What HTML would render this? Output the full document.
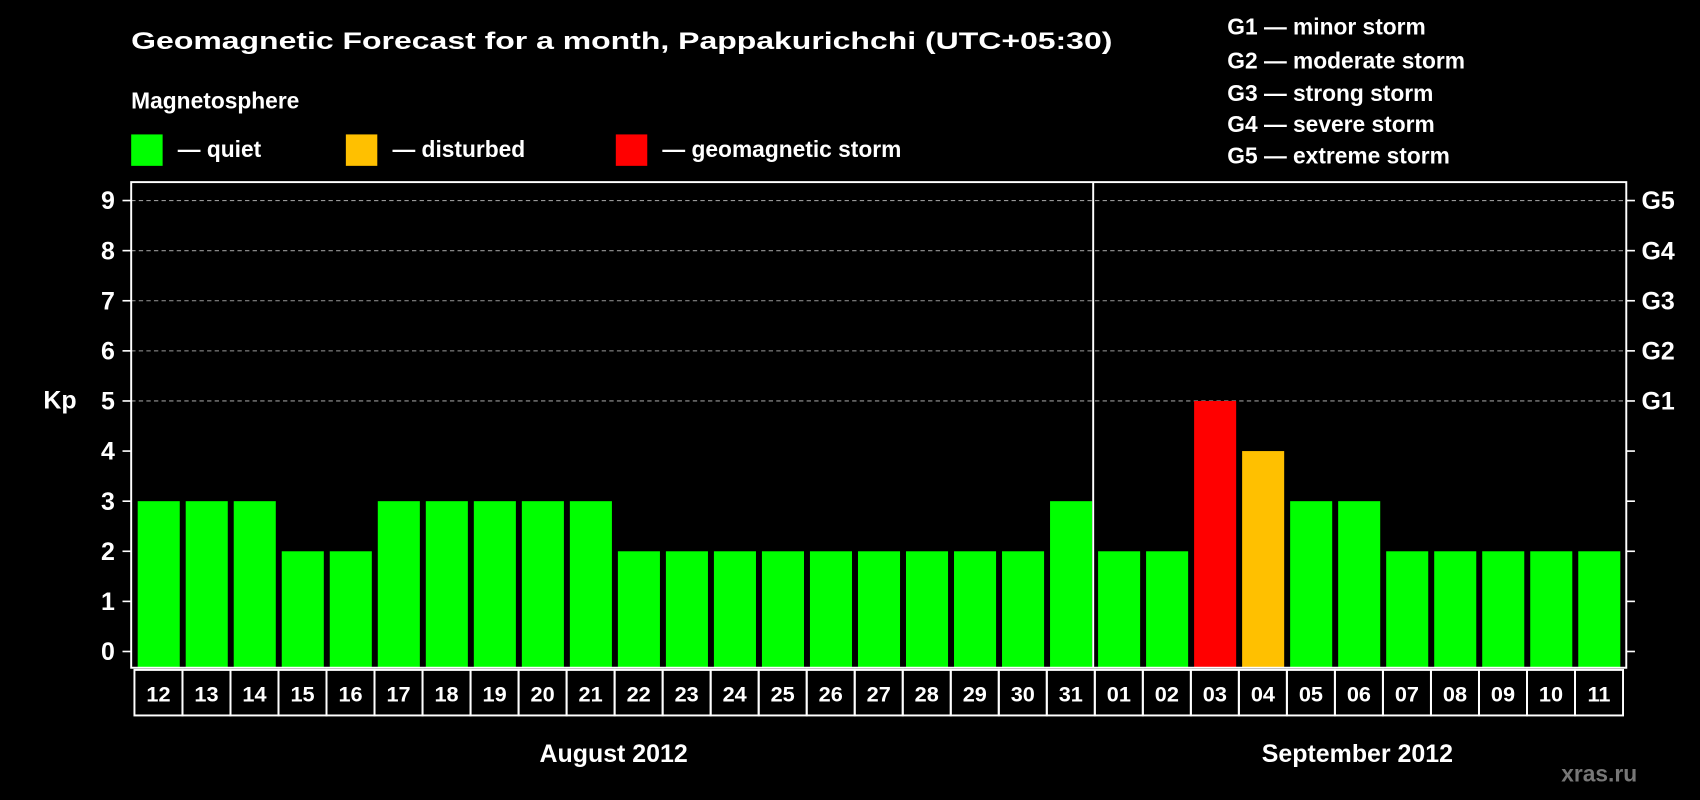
<!DOCTYPE html>
<html><head><meta charset="utf-8"><style>html,body{margin:0;padding:0;background:#000;width:1700px;height:800px;overflow:hidden}svg{display:block}text{font-family:"Liberation Sans",Arial,sans-serif;font-weight:bold;fill:#fff}</style></head>
<body>
<svg id="chart" width="1700" height="800" viewBox="0 0 1568 738" preserveAspectRatio="none" xmlns="http://www.w3.org/2000/svg">
<rect width="1568" height="738" fill="#000"/>
<text x="121" y="45" font-size="22" textLength="905" lengthAdjust="spacingAndGlyphs">Geomagnetic Forecast for a month, Pappakurichchi (UTC+05:30)</text>
<text x="121" y="100" font-size="21">Magnetosphere</text>
<g><rect x="121" y="124" width="29" height="29" fill="#00ff00"/><text x="164" y="145" font-size="21">— quiet</text></g>
<g><rect x="319" y="124" width="29" height="29" fill="#ffc000"/><text x="362" y="145" font-size="21">— disturbed</text></g>
<g><rect x="568" y="124" width="29" height="29" fill="#ff0000"/><text x="611" y="145" font-size="21">— geomagnetic storm</text></g>
<g font-size="21">
<text x="1132" y="32">G1 — minor storm</text>
<text x="1132" y="63">G2 — moderate storm</text>
<text x="1132" y="93">G3 — strong storm</text>
<text x="1132" y="122">G4 — severe storm</text>
<text x="1132" y="151">G5 — extreme storm</text>
</g>
<text x="40" y="377" font-size="23">Kp</text>
<g id="grid"></g><g id="bars"></g><g id="axes"></g>
<text x="566" y="703" font-size="23" text-anchor="middle">August 2012</text>
<text x="1252" y="703" font-size="23" text-anchor="middle">September 2012</text>
<text x="1475" y="721" font-size="21" text-anchor="middle" style="fill:#777">xras.ru</text>
</svg>
<script>
const days=["12","13","14","15","16","17","18","19","20","21","22","23","24","25","26","27","28","29","30","31","01","02","03","04","05","06","07","08","09","10","11"];
const kpValues=[3,3,3,2,2,3,3,3,3,3,2,2,2,2,2,2,2,2,2,3,2,2,5,4,3,3,2,2,2,2,2];
const yTicks=[0,1,2,3,4,5,6,7,8,9];
const gLabels=["G1","G2","G3","G4","G5"];
const NS="http://www.w3.org/2000/svg";
const L=121,R=1500,T=168,B=616,cellL=124,cellR=1497;
const slot=(cellR-cellL)/days.length;
function yS(v){return 601-v*(601-185)/9;}
function xS(i){return cellL+i*slot;}
function mk(tag,attrs,parent){const e=document.createElementNS(NS,tag);for(const k in attrs)e.setAttribute(k,attrs[k]);parent.appendChild(e);return e;}
const grid=document.getElementById('grid'),bars=document.getElementById('bars'),axes=document.getElementById('axes');
yTicks.forEach(v=>{if(v>=5){const g=mk('line',{x1:L,x2:R,y1:yS(v),y2:yS(v),stroke:'#999','stroke-dasharray':'4,3','stroke-width':1},grid);

}
const t1=mk('line',{x1:L-8,x2:L,y1:yS(v),y2:yS(v),stroke:'#fff','stroke-width':1.5},axes);


const t2=mk('line',{x1:R,x2:R+8,y1:yS(v),y2:yS(v),stroke:'#fff','stroke-width':1.5},axes);


const lb=mk('text',{x:106,y:yS(v)+8,'font-size':23,'text-anchor':'end'},axes);lb.textContent=v;

});
gLabels.forEach((g,i)=>{const t=mk('text',{x:1514,y:yS(5+i)+8,'font-size':23},axes);t.textContent=g;

});
kpValues.forEach((v,i)=>{const c=v>=5?'#ff0000':(v>=4?'#ffc000':'#00ff00');
const r=mk('rect',{x:xS(i)+3,y:yS(v),width:slot-5.5,height:B-yS(v),fill:c},bars);


const cell=mk('rect',{x:xS(i),y:618,width:slot,height:42,fill:'none',stroke:'#fff','stroke-width':1.8},axes);


const t=mk('text',{x:xS(i)+slot/2,y:647,'font-size':20,'text-anchor':'middle'},axes);t.textContent=days[i];

});
const fr=mk('rect',{x:L,y:T,width:R-L,height:B-T,fill:'none',stroke:'#fff','stroke-width':1.8},axes);


const dv=mk('line',{x1:xS(20)-1.5,x2:xS(20)-1.5,y1:T,y2:B,stroke:'#fff','stroke-width':1.8},axes);


</script>
</body></html>
